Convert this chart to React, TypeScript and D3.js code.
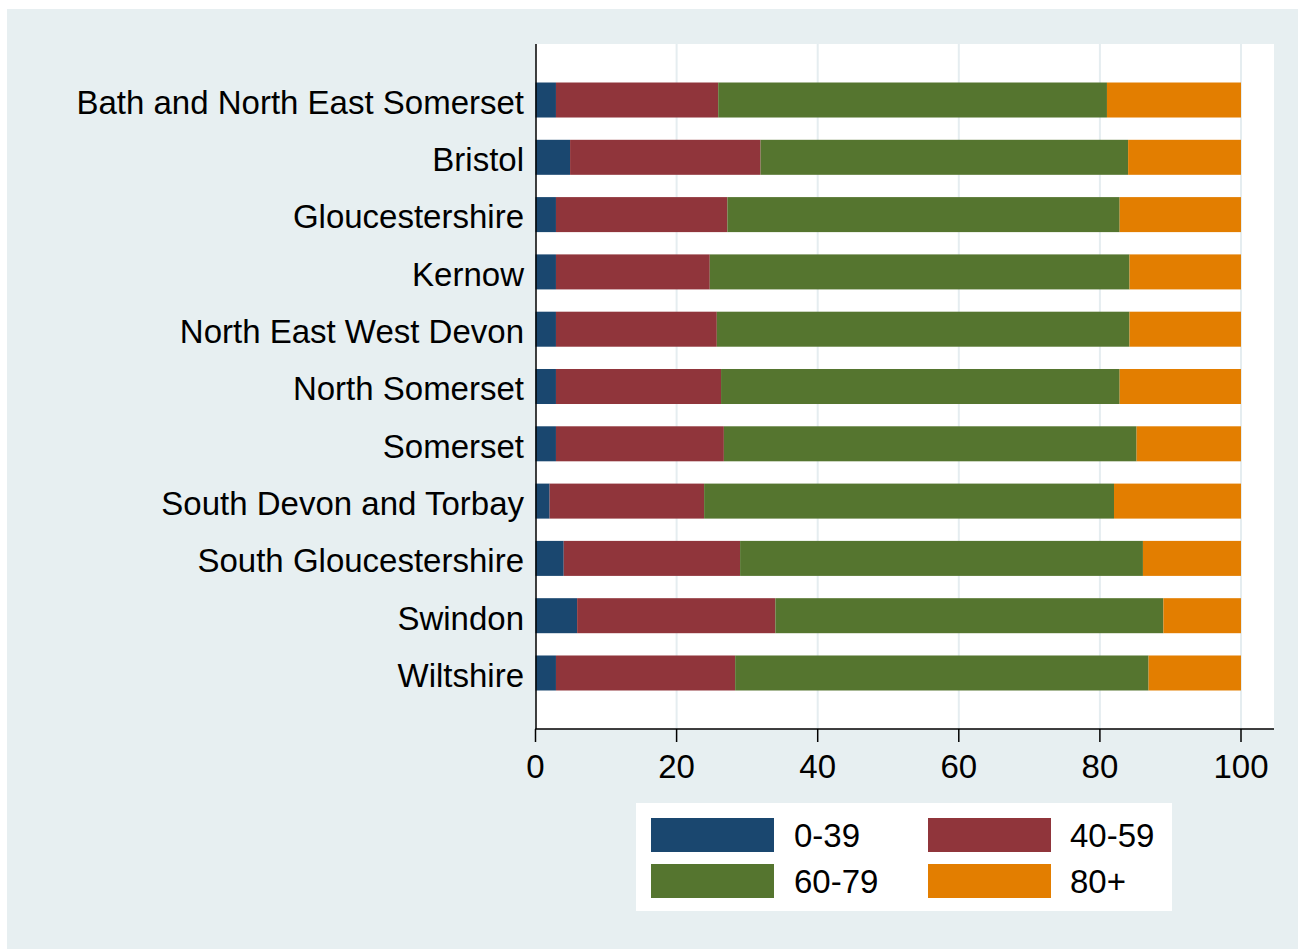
import React from "react";
import * as d3 from "d3";

const categories = [
  "Bath and North East Somerset",
  "Bristol",
  "Gloucestershire",
  "Kernow",
  "North East West Devon",
  "North Somerset",
  "Somerset",
  "South Devon and Torbay",
  "South Gloucestershire",
  "Swindon",
  "Wiltshire",
];

const seriesNames = ["0-39", "40-59", "60-79", "80+"];

const age0to39 = [2.9, 4.9, 2.9, 2.9, 2.9, 2.9, 2.9, 2.0, 4.0, 5.9, 2.9];
const age40to59 = [23.0, 27.0, 24.3, 21.8, 22.8, 23.4, 23.8, 21.9, 25.0, 28.1, 25.4];
const age60to79 = [55.1, 52.1, 55.6, 59.5, 58.5, 56.5, 58.5, 58.1, 57.1, 55.0, 58.6];
const age80plus = [19.0, 16.0, 17.2, 15.8, 15.8, 17.2, 14.8, 18.0, 13.9, 11.0, 13.1];

const xTicks = [0, 20, 40, 60, 80, 100];

const colors = ["#1a476f", "#90353b", "#55752f", "#e37e00"];

export default function App() {
  const W = 1298;
  const H = 949;
  const plot = { left: 536, right: 1274, top: 44, bottom: 729 };
  const font = "'Liberation Sans', Arial, Helvetica, sans-serif";
  const fs = 33;

  const x = d3.scaleLinear().domain([0, 100]).range([535.5, 1241]);
  const y = d3
    .scaleBand<string>()
    .domain(categories)
    .range([plot.top, plot.bottom])
    .paddingInner(0.389)
    .paddingOuter(0.672);

  const rows = categories.map((c, i) => ({
    cat: c,
    "0-39": age0to39[i],
    "40-59": age40to59[i],
    "60-79": age60to79[i],
    "80+": age80plus[i],
  }));
  const stacked = d3.stack<any>().keys(seriesNames)(rows);

  const legendItems = [
    { name: "0-39", color: colors[0], kx: 651, tx: 794, ky: 818 },
    { name: "40-59", color: colors[1], kx: 928, tx: 1070, ky: 818 },
    { name: "60-79", color: colors[2], kx: 651, tx: 794, ky: 864 },
    { name: "80+", color: colors[3], kx: 928, tx: 1070, ky: 864 },
  ];

  return (
    <svg
      width={W}
      height={H}
      style={{ position: "absolute", left: 0, top: 0, display: "block" }}
      fontFamily={font}
    >
      <rect x={0} y={0} width={W} height={H} fill="#ffffff" />
      <rect x={7} y={9} width={W - 7} height={H - 9} fill="#e7eff1" />
      <rect
        x={plot.left}
        y={plot.top}
        width={plot.right - plot.left}
        height={plot.bottom - plot.top}
        fill="#ffffff"
      />
      {/* gridlines */}
      {xTicks
        .filter((t) => t > 0)
        .map((t) => (
          <line
            key={"g" + t}
            x1={x(t)}
            x2={x(t)}
            y1={plot.top}
            y2={plot.bottom}
            stroke="#e5edf0"
            strokeWidth={2}
          />
        ))}
      {/* bars */}
      {stacked.map((s, si) => (
        <g key={s.key} fill={colors[si]}>
          {s.map((d: any, i: number) => (
            <rect
              key={i}
              x={x(d[0])}
              y={y(categories[i])}
              width={x(d[1]) - x(d[0])}
              height={y.bandwidth()}
            />
          ))}
        </g>
      ))}
      {/* axes */}
      <line x1={plot.left} x2={plot.left} y1={plot.top} y2={plot.bottom} stroke="#000" strokeWidth={1.5} />
      <line x1={plot.left - 0.75} x2={plot.right} y1={plot.bottom} y2={plot.bottom} stroke="#000" strokeWidth={1.5} />
      {xTicks.map((t) => (
        <g key={"t" + t}>
          <line x1={x(t)} x2={x(t)} y1={plot.bottom} y2={plot.bottom + 13} stroke="#000" strokeWidth={1.5} />
          <text x={x(t)} y={778} textAnchor="middle" fontSize={fs} fill="#000">
            {t}
          </text>
        </g>
      ))}
      {categories.map((c) => (
        <text
          key={c}
          x={524}
          y={(y(c) as number) + y.bandwidth() / 2}
          dy="0.42em"
          textAnchor="end"
          fontSize={fs}
          fill="#000"
        >
          {c}
        </text>
      ))}
      {/* legend */}
      <rect x={636} y={803} width={536} height={108} fill="#ffffff" />
      {legendItems.map((l) => (
        <g key={l.name}>
          <rect x={l.kx} y={l.ky} width={123} height={34} fill={l.color} />
          <text x={l.tx} y={l.ky + 29} fontSize={fs} fill="#000">
            {l.name}
          </text>
        </g>
      ))}
    </svg>
  );
}
